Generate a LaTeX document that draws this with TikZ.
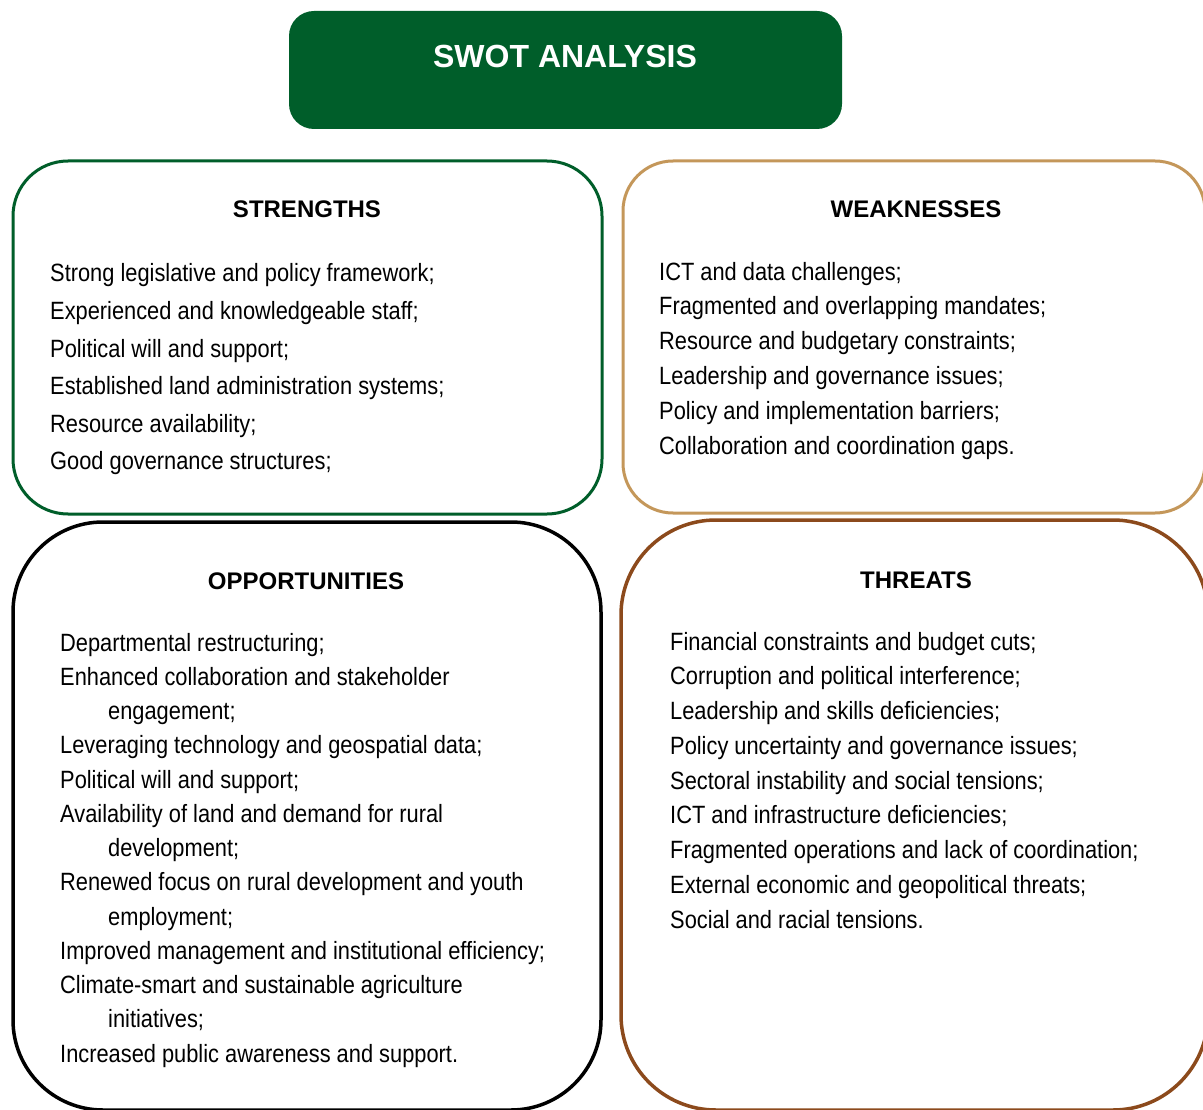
\documentclass[tikz,border=0pt]{standalone}
\usepackage{fontspec}
\setmainfont{Liberation Sans}
\newfontfamily\narrowfont{Liberation Sans}[FakeStretch=0.873]

\definecolor{swotgreen}{RGB}{0,94,42}
\definecolor{swottan}{RGB}{196,151,90}
\definecolor{swotbrown}{RGB}{140,74,28}

\tikzset{
  panel/.style={draw, line width=3pt, rounded corners=55pt, inner sep=0pt},
  heading/.style={anchor=base, inner sep=0pt,
    font=\bfseries\fontsize{24}{28}\selectfont},
  item/.style={anchor=base west, inner sep=0pt,
    font=\narrowfont\fontsize{25}{30}\selectfont}
}

\begin{document}
\begin{tikzpicture}[x=1pt,y=-1pt]
\useasboundingbox (0,0) rectangle (1203,1110);
\clip (0,0) rectangle (1203,1110);

% title
\node[fill=swotgreen, rounded corners=25pt, minimum width=553pt, minimum height=118pt]
  (title) at (565.5,70) {};
\node[anchor=base, text=white, font=\bfseries\fontsize{32}{36}\selectfont]
  (titletext) at (565,68) {SWOT ANALYSIS};

% the four panels
\node[panel, draw=swotgreen, minimum width=589pt, minimum height=353pt] (str) at (307.5,337.5) {};
\node[panel, draw=swottan, rounded corners=50pt, minimum width=582pt, minimum height=352pt] (weak) at (914,337) {};
\node[panel, draw=black, line width=3.5pt, rounded corners=90pt, minimum width=588pt, minimum height=588pt] (opp) at (307,816) {};
\node[panel, draw=swotbrown, line width=3.5pt, rounded corners=95pt, minimum width=587pt, minimum height=590pt] (thr) at (914.5,815) {};

\node[heading] (strhead) at (307,218) {STRENGTHS};
\node[heading] (weakhead) at (916,218) {WEAKNESSES};
\node[heading] (opphead) at (306,589) {OPPORTUNITIES};
\node[heading] (thrhead) at (916,588) {THREATS};

% strengths
\foreach \t [count=\i] in {Strong legislative and policy framework;,
  Experienced and knowledgeable staff;, Political will and support;,
  Established land administration systems;, Resource availability;,
  Good governance structures;}
  \node[item] (str-\i) at (50,{282+(\i-1)*37.5}) {\t};

% weaknesses
\foreach \t [count=\i] in {ICT and data challenges;,
  Fragmented and overlapping mandates;, Resource and budgetary constraints;,
  Leadership and governance issues;, Policy and implementation barriers;,
  Collaboration and coordination gaps.}
  \node[item] (weak-\i) at (659,{280+(\i-1)*34.8}) {\t};

% opportunities (second lines are indented)
\foreach \x/\t [count=\i] in {60/Departmental restructuring;,
  60/Enhanced collaboration and stakeholder, 108/engagement;,
  60/Leveraging technology and geospatial data;, 60/Political will and support;,
  60/Availability of land and demand for rural, 108/development;,
  60/Renewed focus on rural development and youth, 108/employment;,
  60/Improved management and institutional efficiency;,
  60/Climate-smart and sustainable agriculture, 108/initiatives;,
  60/Increased public awareness and support.}
  \node[item] (opp-\i) at (\x,{651+(\i-1)*34.25}) {\t};

% threats
\foreach \t [count=\i] in {Financial constraints and budget cuts;,
  Corruption and political interference;, Leadership and skills deficiencies;,
  Policy uncertainty and governance issues;, Sectoral instability and social tensions;,
  ICT and infrastructure deficiencies;, Fragmented operations and lack of coordination;,
  External economic and geopolitical threats;, Social and racial tensions.}
  \node[item] (thr-\i) at (670,{650+(\i-1)*34.75}) {\t};
\end{tikzpicture}
\end{document}
